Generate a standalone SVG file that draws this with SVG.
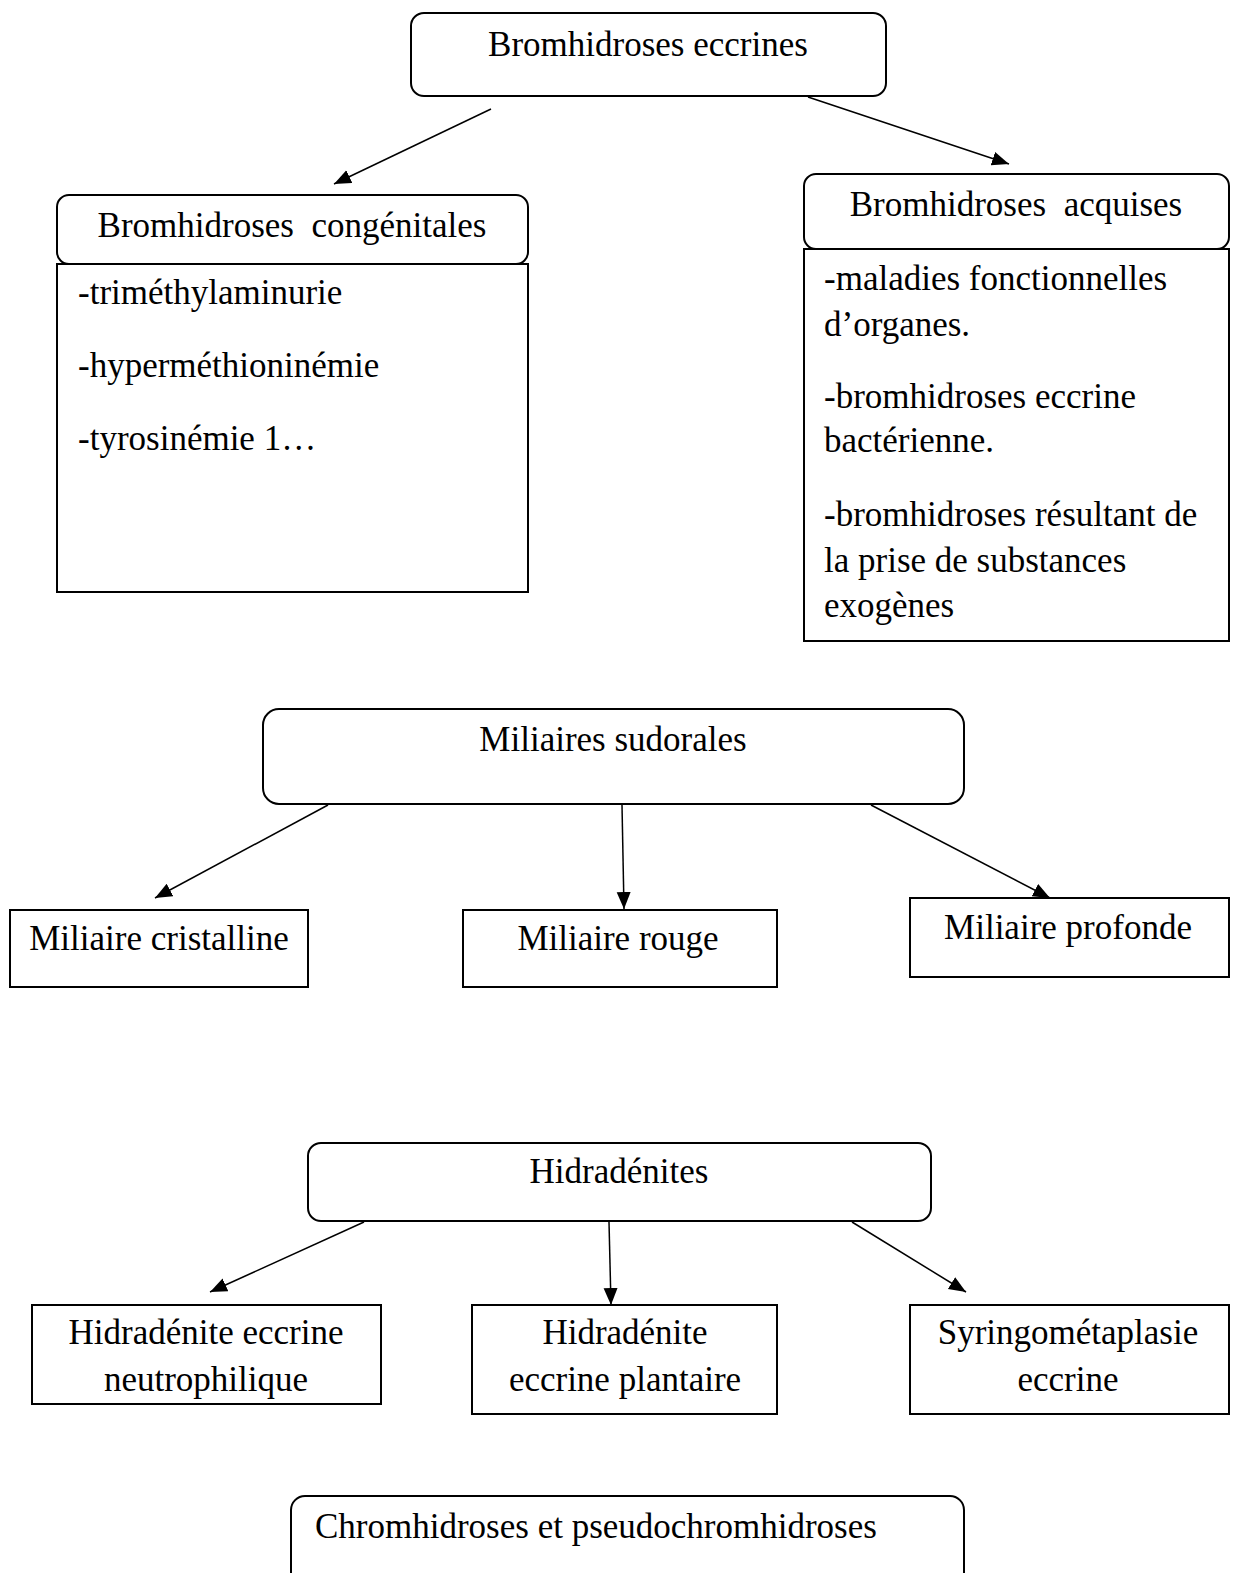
<svg xmlns="http://www.w3.org/2000/svg" width="1237" height="1573" viewBox="0 0 1237 1573">
<style>
.box{fill:#fff;stroke:#000;stroke-width:2}
.t{font-family:"Liberation Serif","Times New Roman",serif;font-size:35px;fill:#000}
.c{text-anchor:middle}
.ln{stroke:#000;stroke-width:1.5;fill:none;marker-end:url(#ah)}
</style>
<defs>
<marker id="ah" markerUnits="userSpaceOnUse" markerWidth="18" markerHeight="16" refX="17" refY="7" orient="auto">
<path d="M0,0 L17,7 L0,14 z" fill="#000"/>
</marker>
</defs>
<rect width="1237" height="1573" fill="#fff"/>
<g id="connectors">
<line class="ln" x1="491" y1="109" x2="334" y2="184"/>
<line class="ln" x1="808" y1="97" x2="1009" y2="164"/>
<line class="ln" x1="328" y1="805" x2="155" y2="898"/>
<line class="ln" x1="622" y1="805" x2="624" y2="909"/>
<line class="ln" x1="871" y1="805" x2="1050" y2="898"/>
<line class="ln" x1="364" y1="1222" x2="210" y2="1292"/>
<line class="ln" x1="609" y1="1222" x2="611" y2="1305"/>
<line class="ln" x1="852" y1="1222" x2="966" y2="1292"/>
</g>
<g id="n-bromhidroses-eccrines">
<rect class="box" x="411" y="13" width="475" height="83" rx="13"/>
<text class="t c" x="648" y="56">Bromhidroses eccrines</text>
</g>
<g id="n-congenitales">
<rect class="box" x="57" y="264" width="471" height="328"/>
<rect class="box" x="57" y="195" width="471" height="69" rx="12"/>
<text class="t c" x="292" y="237" xml:space="preserve">Bromhidroses  congénitales</text>
<text class="t" x="78" y="304">-triméthylaminurie</text>
<text class="t" x="78" y="377">-hyperméthioninémie</text>
<text class="t" x="78" y="450">-tyrosinémie 1…</text>
</g>
<g id="n-acquises">
<rect class="box" x="804" y="249" width="425" height="392"/>
<rect class="box" x="804" y="174" width="425" height="75" rx="12"/>
<text class="t c" x="1016" y="216" xml:space="preserve">Bromhidroses  acquises</text>
<text class="t" x="824" y="290">-maladies fonctionnelles</text>
<text class="t" x="824" y="336">d’organes.</text>
<text class="t" x="824" y="408">-bromhidroses eccrine</text>
<text class="t" x="824" y="452">bactérienne.</text>
<text class="t" x="824" y="526">-bromhidroses résultant de</text>
<text class="t" x="824" y="572">la prise de substances</text>
<text class="t" x="824" y="617">exogènes</text>
</g>
<g id="n-miliaires">
<rect class="box" x="263" y="709" width="701" height="95" rx="16"/>
<text class="t c" x="613" y="751">Miliaires sudorales</text>
</g>
<g id="n-cristalline">
<rect class="box" x="10" y="910" width="298" height="77"/>
<text class="t c" x="159" y="950">Miliaire cristalline</text>
</g>
<g id="n-rouge">
<rect class="box" x="463" y="910" width="314" height="77"/>
<text class="t c" x="618" y="950">Miliaire rouge</text>
</g>
<g id="n-profonde">
<rect class="box" x="910" y="898" width="319" height="79"/>
<text class="t c" x="1068" y="939">Miliaire profonde</text>
</g>
<g id="n-hidradenites">
<rect class="box" x="308" y="1143" width="623" height="78" rx="13"/>
<text class="t c" x="619" y="1183">Hidradénites</text>
</g>
<g id="n-neutrophilique">
<rect class="box" x="32" y="1305" width="349" height="99"/>
<text class="t c" x="206" y="1344">Hidradénite eccrine</text>
<text class="t c" x="206" y="1391">neutrophilique</text>
</g>
<g id="n-plantaire">
<rect class="box" x="472" y="1305" width="305" height="109"/>
<text class="t c" x="625" y="1344">Hidradénite</text>
<text class="t c" x="625" y="1391">eccrine plantaire</text>
</g>
<g id="n-syringo">
<rect class="box" x="910" y="1305" width="319" height="109"/>
<text class="t c" x="1068" y="1344">Syringométaplasie</text>
<text class="t c" x="1068" y="1391">eccrine</text>
</g>
<g id="n-chromhidroses">
<rect class="box" x="291" y="1496" width="673" height="90" rx="14"/>
<text class="t" x="315" y="1538">Chromhidroses et pseudochromhidroses</text>
</g>
</svg>
